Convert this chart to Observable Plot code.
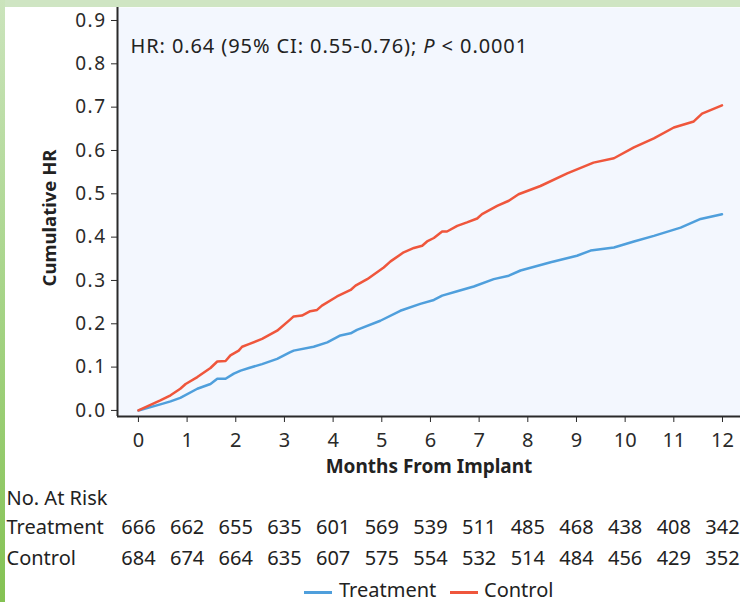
<!DOCTYPE html>
<html>
<head>
<meta charset="utf-8">
<script src="https://cdn.jsdelivr.net/npm/d3@7"></script>
<script src="https://cdn.jsdelivr.net/npm/@observablehq/plot@0.6"></script>
<style>
  html, body { margin: 0; padding: 0; background: #ffffff; }
  #wrap { position: relative; width: 740px; height: 602px; overflow: hidden; background: #fff; font-family: "Noto Sans", sans-serif; color: #222; }
  #chart { position: absolute; left: 0; top: 0; }
  #topband { position: absolute; left: 0; top: 0; width: 740px; height: 7px; background: #cfe5c3; }
  #leftband { position: absolute; left: 0; top: 0; width: 5px; height: 602px; background: linear-gradient(#cbe4bc, #a6d487 50%, #84c253); }
  .legend-line { position: absolute; height: 2.5px; top: 591px; }
  .legend-text { position: absolute; top: 580px; font-size: 20px; line-height: 20px; color: #222; }
</style>
</head>
<body>
<div id="wrap">
  <div id="chart"></div>
  <div id="topband"></div>
  <div id="leftband"></div>
</div>
<script>
// ---- data ----
const seriesNames = ["Treatment", "Control"];
const seriesColors = ["#4f9fdc", "#ef563c"];

const treatMonths = [0, 0.45, 0.66, 0.86, 1.21, 1.48, 1.62, 1.79, 1.96, 2.1, 2.27, 2.54, 2.85, 3.11, 3.19, 3.6, 3.88, 4.15, 4.36, 4.49, 4.97, 5.38, 5.79, 6.07, 6.24, 6.55, 6.89, 7.30, 7.61, 7.85, 8.47, 9.01, 9.29, 9.77, 10.18, 10.59, 11.14, 11.55, 11.99];
const treatHR = [0, 0.014, 0.021, 0.029, 0.05, 0.061, 0.073, 0.073, 0.085, 0.092, 0.098, 0.107, 0.119, 0.134, 0.138, 0.147, 0.157, 0.173, 0.178, 0.186, 0.207, 0.230, 0.246, 0.255, 0.265, 0.275, 0.286, 0.303, 0.311, 0.323, 0.342, 0.357, 0.369, 0.376, 0.39, 0.403, 0.422, 0.442, 0.453];

const ctrlMonths = [0, 0.45, 0.66, 0.86, 0.97, 1.21, 1.48, 1.62, 1.79, 1.89, 2.06, 2.13, 2.27, 2.54, 2.85, 3.11, 3.19, 3.36, 3.53, 3.67, 3.77, 4.08, 4.36, 4.46, 4.70, 5.04, 5.18, 5.45, 5.66, 5.83, 5.93, 6.07, 6.24, 6.34, 6.55, 6.75, 6.96, 7.06, 7.37, 7.61, 7.81, 8.26, 8.81, 9.35, 9.77, 10.18, 10.59, 11.0, 11.41, 11.58, 11.99];
const ctrlHR = [0, 0.023, 0.035, 0.05, 0.061, 0.077, 0.098, 0.113, 0.114, 0.127, 0.138, 0.147, 0.153, 0.165, 0.184, 0.209, 0.217, 0.219, 0.229, 0.232, 0.242, 0.263, 0.278, 0.288, 0.303, 0.330, 0.344, 0.365, 0.375, 0.380, 0.390, 0.398, 0.413, 0.413, 0.426, 0.434, 0.443, 0.453, 0.472, 0.484, 0.499, 0.518, 0.547, 0.572, 0.582, 0.607, 0.628, 0.653, 0.667, 0.685, 0.704];

const monthTicks = [0, 1, 2, 3, 4, 5, 6, 7, 8, 9, 10, 11, 12];
const hrTicks = [0, 0.1, 0.2, 0.3, 0.4, 0.5, 0.6, 0.7, 0.8, 0.9];
const riskTreatment = [666, 662, 655, 635, 601, 569, 539, 511, 485, 468, 438, 408, 342];
const riskControl = [684, 674, 664, 635, 607, 575, 554, 532, 514, 484, 456, 429, 352];

const annotation = "HR: 0.64 (95% CI: 0.55-0.76); P < 0.0001";
const xLabel = "Months From Implant";
const yLabel = "Cumulative HR";
const riskTitle = "No. At Risk";

// ---- build table ----
const lineData = [
  ...treatMonths.map((m, i) => ({month: m, hr: treatHR[i], group: seriesNames[0]})),
  ...ctrlMonths.map((m, i) => ({month: m, hr: ctrlHR[i], group: seriesNames[1]}))
];
const xDomain = [-0.43, 12.37];
const yDomain = [-0.014, 0.93];

const chart = Plot.plot({
  width: 740,
  height: 602,
  marginLeft: 117,
  marginRight: 0,
  marginTop: 7,
  marginBottom: 186,
  style: {fontFamily: "'Noto Sans', sans-serif", fontSize: "20px", color: "#2a2a2a", background: "transparent", overflow: "visible"},
  x: {domain: xDomain, ticks: monthTicks, tickFormat: "d", tickSize: 6, tickPadding: 10, label: null},
  y: {domain: yDomain, ticks: hrTicks, tickFormat: ".1f", tickSize: 6, tickPadding: 5, label: null},
  color: {domain: seriesNames, range: seriesColors},
  marks: [
    Plot.frame({fill: "#f3f7fe", stroke: null}),
    Plot.line(lineData, {x: "month", y: "hr", stroke: "group", strokeWidth: 2.5}),
    Plot.ruleX([xDomain[0]], {stroke: "#2a2a2a", strokeWidth: 2}),
    Plot.ruleY([yDomain[0]], {stroke: "#2a2a2a", strokeWidth: 2}),
    Plot.text([annotation], {text: d => d, frameAnchor: "top-left", dx: 13, dy: 31, textAnchor: "start", lineAnchor: "top", fontSize: 20, fill: "#222"}),
    Plot.text([xLabel], {text: d => d, frameAnchor: "bottom", dy: 56, fontWeight: "bold", fontSize: 19, fill: "#222"}),
    Plot.text([yLabel], {text: d => d, frameAnchor: "left", dx: -67, dy: 6, rotate: -90, textAnchor: "middle", fontWeight: "bold", fontSize: 18.5, fill: "#222"}),
    Plot.text([riskTitle], {text: d => d, frameAnchor: "bottom-left", dx: -111, dy: 88, textAnchor: "start", fontSize: 20, fill: "#222"}),
    Plot.text([seriesNames[0]], {text: d => d, frameAnchor: "bottom-left", dx: -111, dy: 117, textAnchor: "start", fontSize: 20, fill: "#222"}),
    Plot.text([seriesNames[1]], {text: d => d, frameAnchor: "bottom-left", dx: -111, dy: 148, textAnchor: "start", fontSize: 20, fill: "#222"}),
    Plot.text(monthTicks, {x: d => d, text: (d, i) => riskTreatment[i], frameAnchor: "bottom", dy: 117, fontSize: 20, fill: "#222"}),
    Plot.text(monthTicks, {x: d => d, text: (d, i) => riskControl[i], frameAnchor: "bottom", dy: 148, fontSize: 20, fill: "#222"})
  ]
});
document.getElementById("chart").appendChild(chart);

// y tick labels: slightly smaller, wider spacing
for (const t of chart.querySelectorAll('g[aria-label^="y-axis"] text')) {
  t.style.fontSize = "19px";
  t.style.letterSpacing = "1.5px";
}

// italic P in the annotation, and wider tracking
for (const t of chart.querySelectorAll("text")) {
  if (t.textContent === annotation) {
    const idx = annotation.indexOf("P <");
    const before = annotation.slice(0, idx), after = annotation.slice(idx + 1);
    t.textContent = "";
    t.style.letterSpacing = "0.9px";
    const ns = "http://www.w3.org/2000/svg";
    const a = document.createElementNS(ns, "tspan"); a.textContent = before;
    const b = document.createElementNS(ns, "tspan"); b.textContent = "P"; b.setAttribute("font-style", "italic");
    const c = document.createElementNS(ns, "tspan"); c.textContent = after;
    t.append(a, b, c);
  }
}

// legend (line swatches)
const wrap = document.getElementById("wrap");
const legendPos = [{line: 304, text: 339}, {line: 450, text: 484}];
seriesNames.forEach((name, i) => {
  const l = document.createElement("div");
  l.className = "legend-line";
  l.style.left = legendPos[i].line + "px";
  l.style.width = "28px";
  l.style.background = seriesColors[i];
  const t = document.createElement("div");
  t.className = "legend-text";
  t.style.left = legendPos[i].text + "px";
  t.textContent = name;
  wrap.append(l, t);
});
</script>
</body>
</html>
